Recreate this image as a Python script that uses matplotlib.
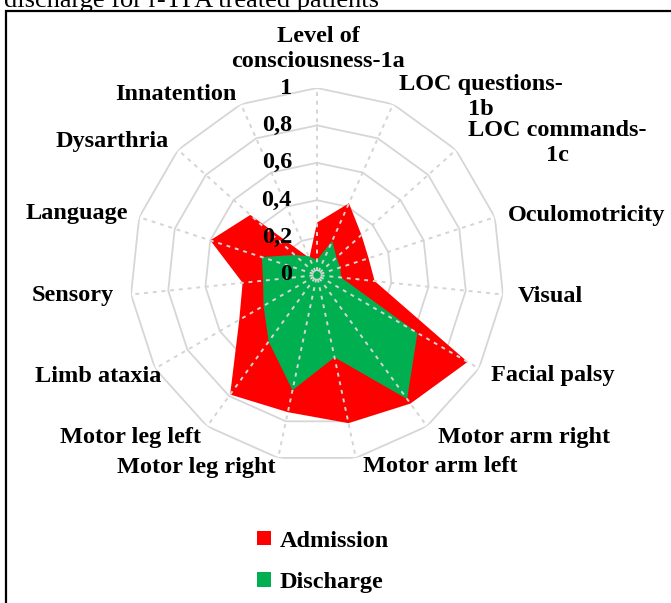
import numpy as np
import matplotlib
matplotlib.use('Agg')
import matplotlib.pyplot as plt
from matplotlib.patches import Rectangle, Patch

# NIHSS items, clockwise from the top
categories = ['Level of\nconsciousness-1a', 'LOC questions-\n1b', 'LOC commands-\n1c',
              'Oculomotricity', 'Visual', 'Facial palsy', 'Motor arm right',
              'Motor arm left', 'Motor leg right', 'Motor leg left', 'Limb ataxia',
              'Sensory', 'Language', 'Dysarthria', 'Innatention']
admission = [0.28, 0.42, 0.32, 0.29, 0.31, 0.93, 0.85, 0.81, 0.75, 0.79,
             0.48, 0.40, 0.60, 0.48, 0.10]
discharge = [0.08, 0.20, 0.14, 0.13, 0.13, 0.62, 0.82, 0.45, 0.63, 0.44,
             0.33, 0.29, 0.31, 0.16, 0.11]
levels = [0, 0.2, 0.4, 0.6, 0.8, 1.0]
level_labels = ['0', '0,2', '0,4', '0,6', '0,8', '1']
series_names = ['Admission', 'Discharge']
series_colors = ['#ff0000', '#00b050']

# label positions in pixels (x, y from top)
label_pos = [(318, 49), (481, 97), (557, 143), (587, 215), (550, 296),
             (553, 376), (524, 437), (440, 467), (196, 467), (130, 437),
             (98, 376), (73, 296), (77, 214), (112, 142), (176, 94)]

W, H = 671, 603
FONT = 'Liberation Serif'
FS = 17.5


def px(x, y):
    return x / W, 1 - y / H


fig = plt.figure(figsize=(W / 100, H / 100), dpi=100)

# partially visible caption above the frame
fig.text(*px(4, 7), 'discharge for r-TPA treated patients', fontsize=19,
         family=FONT, va='baseline', ha='left')
fig.add_artist(Rectangle(px(6, 640), 1.0, (640 - 11) / H, transform=fig.transFigure,
                         fill=False, ec='black', lw=1.6))

cx, cy, R = 317, 275, 187
ax = fig.add_axes([(cx - R) / W, 1 - (cy + R) / H, 2 * R / W, 2 * R / H],
                  projection='polar')
ax.set_theta_offset(np.pi / 2)
ax.set_theta_direction(-1)
ax.set_ylim(0, 1)
ax.grid(False)
ax.spines['polar'].set_visible(False)
ax.set_xticks([])
ax.set_yticks([])
ax.patch.set_alpha(0)

n = len(categories)
theta = np.arange(n) * 2 * np.pi / n
theta_c = np.append(theta, theta[0])

# polygon rings
for lv in levels[1:]:
    ax.plot(theta_c, [lv] * (n + 1), color='#d6d6d6', lw=1.3, zorder=1)

for vals, col, z in zip([admission, discharge], series_colors, [2, 3]):
    ax.fill(theta_c, np.append(vals, vals[0]), color=col, lw=0, zorder=z)

# dashed spokes
for t in theta:
    ax.plot([t, t], [0.02, 1.0], color='#d4d4d4', lw=1.4, ls=(0, (2, 2.5)), zorder=4)

for lv, lab in zip(levels, level_labels):
    ax.annotate(lab, xy=(0, lv), xytext=(-18, 0), textcoords='offset points',
                ha='right', va='center', fontsize=FS, family=FONT,
                fontweight='bold', zorder=5)

for lab, (x, y) in zip(categories, label_pos):
    fig.text(*px(x, y), lab, ha='center', va='center', fontsize=FS,
             family=FONT, fontweight='bold', linespacing=1.3,
             multialignment='center')

handles = [Patch(facecolor=c, edgecolor='none') for c in series_colors]
fig.legend(handles, series_names, loc='center', bbox_to_anchor=px(323, 562),
           frameon=False, prop={'family': FONT, 'weight': 'bold', 'size': FS},
           handlelength=0.55, handleheight=0.55, handletextpad=0.35,
           labelspacing=0.85)

fig.savefig('out.png', dpi=100)
